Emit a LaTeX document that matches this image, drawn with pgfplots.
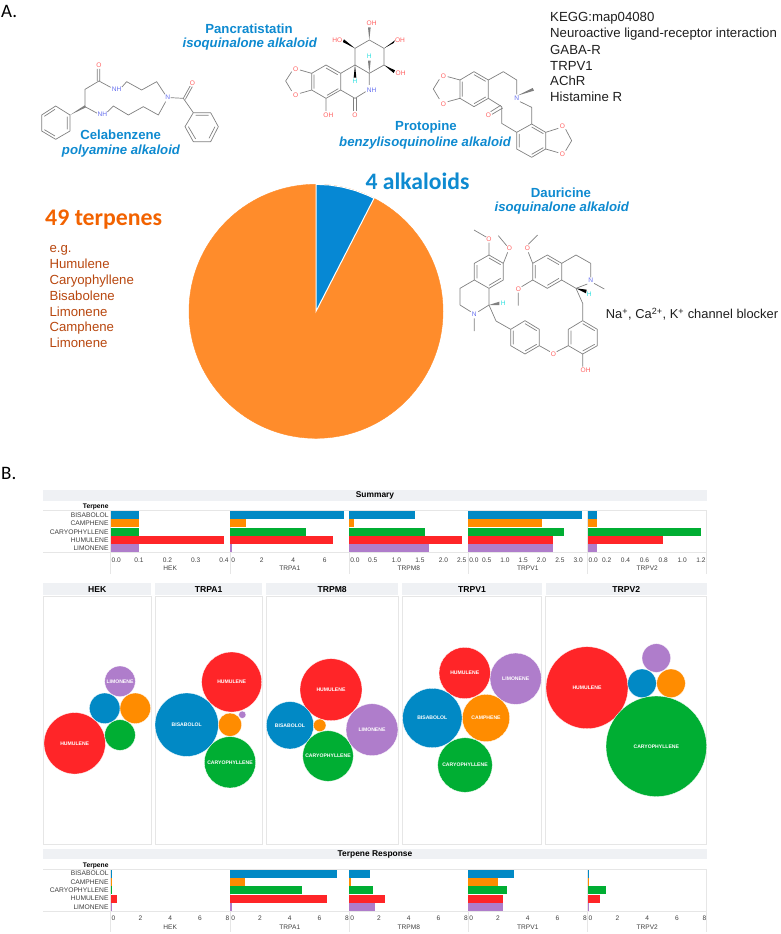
\documentclass[border=0pt]{standalone}
\usepackage{fontspec}
\usepackage{pgfplots}
\pgfplotsset{compat=1.18}
\setmainfont{Liberation Sans}
\newfontfamily\carlito{Carlito}
\newcommand{\fs}[1]{\fontsize{#1}{#1}\selectfont}
\definecolor{bis}{HTML}{0189C5}
\definecolor{cam}{HTML}{FF8C00}
\definecolor{car}{HTML}{00AE33}
\definecolor{hum}{HTML}{FF2528}
\definecolor{lim}{HTML}{AF7DCB}
\definecolor{txtblue}{HTML}{0E8AD0}
\definecolor{pieor}{HTML}{FF8C2B}
\definecolor{pieblue}{HTML}{0688D4}
\definecolor{terp}{HTML}{F26200}
\definecolor{terplist}{HTML}{B8470F}
\definecolor{hdr}{HTML}{EFF1F4}
\definecolor{rule}{HTML}{E6E6E6}
\definecolor{bondc}{HTML}{808080}
\definecolor{atO}{HTML}{FF6060}
\definecolor{atN}{HTML}{6670F0}
\definecolor{atH}{HTML}{30E0E0}
\newcommand{\bub}[5]{\addplot[only marks,mark=*,mark size=#4,color=#1,mark options={draw=white,line width=0.3pt},nodes near coords={#5},every node near coord/.append style={anchor=center,text=white,inner sep=0pt,font=\fs{5.1}\bfseries}] coordinates {(#2,#3)};}
\newcommand{\bars}[5]{%
\addplot[fill=bis,draw=none] coordinates {(#1,0)};
\addplot[fill=cam,draw=none] coordinates {(#2,1)};
\addplot[fill=car,draw=none] coordinates {(#3,2)};
\addplot[fill=hum,draw=none] coordinates {(#4,3)};
\addplot[fill=lim,draw=none] coordinates {(#5,4)};}
\newcommand{\panel}[3]{% x0 x1 title
\fill[hdr] (#1,583.3) rectangle (#2,595);
\draw[rule,line width=0.7pt] (#1,596) rectangle (#2,844.3);
\node[font=\fs{8.6}\bfseries,inner sep=0pt] at ({(#1+#2)/2},589.3) {#3};}
\newcommand{\lft}[1]{\makebox[0pt][l]{\hspace{1pt}#1}}
\newcommand{\rgt}[1]{\makebox[0pt][r]{#1\hspace{0.5pt}}}
\pgfplotsset{
 barax/.style={scale only axis,width=119pt,height=42pt,anchor=north west,xbar,
  /pgf/bar shift=0pt,bar width=7.8pt,y dir=reverse,ymin=-0.52,ymax=4.52,xmin=0,clip=false,
  axis line style={draw=none},major tick length=0pt,tick style={draw=none},
  tick label style={font=\fs{6.6},text=black!75},label style={font=\fs{6.6},text=black!75},
  x tick label style={anchor=base,yshift=-9.4pt,inner sep=0pt},
  xlabel style={at={(axis description cs:0.5,0)},anchor=base,yshift=-18pt,inner sep=0pt},
  ymajorticks=false,xticklabel pos=lower},
 namesy/.style={ymajorticks=true,ytick={0,1,2,3,4},
  yticklabels={BISABOLOL,CAMPHENE,CARYOPHYLLENE,HUMULENE,LIMONENE},
  y tick label style={font=\fs{6.7},anchor=east,inner sep=0pt,xshift=-2pt}}
}
\tikzset{
 bd/.style={draw=bondc,line width=0.7pt,line join=round},
 atm/.style={font=\fs{6.6},inner sep=0.3pt,fill=white},
 aO/.style={atm,text=atO},aN/.style={atm,text=atN},aH/.style={font=\fs{6.6},inner sep=0pt,text=atH},
 mol/.style={x=0.33333pt,y=-0.33333pt},
 ltxt/.style={anchor=west,inner sep=0pt,text height=8.8pt,text depth=0pt}
}
\begin{document}
\begin{tikzpicture}
\useasboundingbox (0,0) rectangle (780pt,-934pt);
\begin{axis}[at={(0pt,0pt)},anchor=north west,scale only axis,width=780pt,height=934pt,
 xmin=0,xmax=780,ymin=0,ymax=934,y dir=reverse,hide axis,clip=false]
% pie body: 49 terpenes
\addplot[only marks,mark=*,mark size=127,color=pieor,mark options={draw=none}] coordinates {(316,311.3)};
% panel headers
\fill[hdr] (43.3,490) rectangle (706.7,501);
\node[font=\fs{8.4}\bfseries,inner sep=0pt] at (375,495.5) {Summary};
\fill[hdr] (43.3,848.7) rectangle (706.7,859.3);
\node[font=\fs{8.4}\bfseries,inner sep=0pt] at (375,854) {Terpene Response};
\node[font=\fs{6.7}\bfseries,anchor=east,inner sep=0pt] at (108.7,506.7) {Terpene};
\node[font=\fs{6.7}\bfseries,anchor=east,inner sep=0pt] at (108.7,865.7) {Terpene};
\draw[rule,line width=0.7pt] (43.3,510.7) -- (706.7,510.7) (43.3,552.7) -- (706.7,552.7);
\draw[rule,line width=0.7pt] (43.3,869.3) -- (706.7,869.3) (43.3,911.3) -- (706.7,911.3);
\draw[rule,line width=0.7pt] (110.7,510.7) -- (110.7,574) (230.3,510.7) -- (230.3,574) (349.3,510.7) -- (349.3,574) (468.3,510.7) -- (468.3,574) (587.7,510.7) -- (587.7,574) (706.7,510.7) -- (706.7,574);
\draw[rule,line width=0.7pt] (110.7,869.3) -- (110.7,932) (230.3,869.3) -- (230.3,932) (349.3,869.3) -- (349.3,932) (468.3,869.3) -- (468.3,932) (587.7,869.3) -- (587.7,932) (706.7,869.3) -- (706.7,932);
% bubble panels
\panel{43.3}{151}{HEK}
\panel{155}{262.3}{TRPA1}
\panel{266}{398.3}{TRPM8}
\panel{402.3}{541.7}{TRPV1}
\panel{545.7}{706.7}{TRPV2}
\bub{hum}{74.7}{743.3}{30.7}{HUMULENE}
\bub{lim}{120}{681.3}{15.3}{LIMONENE}
\bub{bis}{104.7}{708.3}{15.3}{}
\bub{cam}{135.3}{708.3}{15.3}{}
\bub{car}{120}{735}{15.3}{}
\bub{hum}{231.7}{682}{30}{HUMULENE}
\bub{bis}{186.7}{724.7}{31.7}{BISABOLOL}
\bub{cam}{230}{724.7}{11.7}{}
\bub{lim}{242.3}{714.7}{3.7}{}
\bub{car}{230}{762.3}{25.7}{CARYOPHYLLENE}
\bub{hum}{331}{689.7}{31}{HUMULENE}
\bub{bis}{290}{725.3}{23.7}{BISABOLOL}
\bub{cam}{319.7}{725.3}{6.3}{}
\bub{car}{328}{756}{25.3}{CARYOPHYLLENE}
\bub{lim}{372}{729.7}{26}{LIMONENE}
\bub{hum}{464.7}{673}{25.7}{HUMULENE}
\bub{lim}{515.7}{678.7}{25.7}{LIMONENE}
\bub{bis}{432.3}{718}{29.7}{BISABOLOL}
\bub{cam}{486}{718}{23.7}{CAMPHENE}
\bub{car}{465}{765}{27.3}{CARYOPHYLLENE}
\bub{hum}{587}{687.7}{41}{HUMULENE}
\bub{lim}{656.3}{658}{14.3}{}
\bub{bis}{642}{683.3}{14.3}{}
\bub{cam}{671}{683.3}{14.3}{}
\bub{car}{656.3}{746.3}{50.3}{CARYOPHYLLENE}
% text
\node[font=\carlito\fs{19},anchor=west,inner sep=0pt] at (1,11) {A.};
\node[font=\carlito\fs{19},anchor=west,inner sep=0pt] at (1,473) {B.};
\node[font=\fs{13.2}\bfseries,text=txtblue,inner sep=0pt] at (249,28.3) {Pancratistatin};
\node[font=\fs{13.2}\bfseries\itshape,text=txtblue,inner sep=0pt] at (249.7,44.3) {isoquinalone alkaloid};
\node[font=\fs{13.2}\bfseries,text=txtblue,inner sep=0pt] at (120.7,135) {Celabenzene};
\node[font=\fs{13.2}\bfseries\itshape,text=txtblue,inner sep=0pt] at (121,150.7) {polyamine alkaloid};
\node[font=\fs{13.2}\bfseries,text=txtblue,inner sep=0pt] at (426,127) {Protopine};
\node[font=\fs{13.2}\bfseries\itshape,text=txtblue,inner sep=0pt] at (425,142.7) {benzylisoquinoline alkaloid};
\node[font=\fs{13.2}\bfseries,text=txtblue,inner sep=0pt] at (561,192.7) {Dauricine};
\node[font=\fs{13.2}\bfseries\itshape,text=txtblue,inner sep=0pt] at (561.7,208.3) {isoquinalone alkaloid};
\node[font=\carlito\fs{23.6}\bfseries,text=txtblue,inner sep=0pt] at (417.5,181) {4 alkaloids};
\node[font=\carlito\fs{23.8}\bfseries,text=terp,inner sep=0pt] at (103.7,220) {49 terpenes};
\foreach \yy/\tt in {17.3/KEGG:map04080,33.3/Neuroactive ligand-receptor interaction,49.6/GABA-R,65.6/TRPV1,81.3/AChR,97.3/Histamine R}{
 \edef\tmp{\noexpand\node[font=\noexpand\fs{13.2},ltxt,text=black!88] at (550,\yy) {\tt};}\tmp}
\foreach \yy/\tt in {248.3/e.g.,264/Humulene,280/Caryophyllene,295.7/Bisabolene,311.7/Limonene,327.3/Camphene,343.3/Limonene}{
 \edef\tmp{\noexpand\node[font=\noexpand\fs{13.2},ltxt,text=terplist] at (49.3,\yy) {\tt};}\tmp}
\node[font=\fs{12.9},ltxt,text=black!88] at (605.7,314) {Na\textsuperscript{+}, Ca\textsuperscript{2+}, K\textsuperscript{+} channel blocker};
\end{axis}
% pie slice: 4 alkaloids (own axis so that it lies over the pie body)
\begin{axis}[at={(0pt,0pt)},anchor=north west,scale only axis,width=780pt,height=934pt,
 xmin=0,xmax=780,ymin=0,ymax=934,y dir=reverse,hide axis,clip=false]
\addplot[fill=pieblue,draw=white,line width=1pt] coordinates {(316,311.3)(316,184.3)(329.3,185.0)(342.4,187.1)(355.2,190.5)(367.7,195.3)(374.0,198.3)} -- cycle;
\end{axis}
% Summary bars
\begin{axis}[barax,namesy,at={(110.7pt,-510.7pt)},xmax=0.42,xtick={0,0.1,0.2,0.3,0.4},xticklabels={\lft{0.0},0.1,0.2,0.3,0.4},xlabel={HEK}]
\bars{0.1}{0.1}{0.1}{0.4}{0.1}\end{axis}
\begin{axis}[barax,at={(230.3pt,-510.7pt)},xmax=7.56,xtick={0,2,4,6},xticklabels={\lft{0},2,4,6},xlabel={TRPA1}]
\bars{7.2}{1.0}{4.8}{6.5}{0.1}\end{axis}
\begin{axis}[barax,at={(349.3pt,-510.7pt)},xmax=2.53,xtick={0,0.5,1,1.5,2,2.5},xticklabels={\lft{0.0},0.5,1.0,1.5,2.0,\rgt{2.5}},xlabel={TRPM8}]
\bars{1.4}{0.1}{1.6}{2.4}{1.7}\end{axis}
\begin{axis}[barax,at={(468.3pt,-510.7pt)},xmax=3.25,xtick={0,0.5,1,1.5,2,2.5,3},xticklabels={\lft{0.0},0.5,1.0,1.5,2.0,2.5,3.0},xlabel={TRPV1}]
\bars{3.1}{2.0}{2.6}{2.3}{2.3}\end{axis}
\begin{axis}[barax,at={(587.7pt,-510.7pt)},xmax=1.26,xtick={0,0.2,0.4,0.6,0.8,1,1.2},xticklabels={\lft{0.0},0.2,0.4,0.6,0.8,1.0,1.2},xlabel={TRPV2}]
\bars{0.1}{0.1}{1.2}{0.8}{0.1}\end{axis}
% Terpene Response bars
\begin{axis}[barax,namesy,at={(110.7pt,-869.3pt)},xmax=8,xtick={0,2,4,6,8},xticklabels={\lft{0},2,4,6,\rgt{8}},xlabel={HEK}]
\bars{0.1}{0.1}{0.1}{0.4}{0.1}\end{axis}
\begin{axis}[barax,at={(230.3pt,-869.3pt)},xmax=8,xtick={0,2,4,6,8},xticklabels={\lft{0},2,4,6,\rgt{8}},xlabel={TRPA1}]
\bars{7.2}{1.0}{4.8}{6.5}{0.1}\end{axis}
\begin{axis}[barax,at={(349.3pt,-869.3pt)},xmax=8,xtick={0,2,4,6,8},xticklabels={\lft{0},2,4,6,\rgt{8}},xlabel={TRPM8}]
\bars{1.4}{0.1}{1.6}{2.4}{1.7}\end{axis}
\begin{axis}[barax,at={(468.3pt,-869.3pt)},xmax=8,xtick={0,2,4,6,8},xticklabels={\lft{0},2,4,6,\rgt{8}},xlabel={TRPV1}]
\bars{3.1}{2.0}{2.6}{2.3}{2.3}\end{axis}
\begin{axis}[barax,at={(587.7pt,-869.3pt)},xmax=8,xtick={0,2,4,6,8},xticklabels={\lft{0},2,4,6,\rgt{8}},xlabel={TRPV2}]
\bars{0.1}{0.1}{1.2}{0.8}{0.1}\end{axis}
% Structure sketches (not data)
\begin{scope}[mol]
% Celabenzene
\draw[bd] (167,318)--(210,345)--(210,393)--(167,418)--(125,393)--(125,345)--cycle;
\draw[bd] (202,350)--(202,388) (165,408)--(133,389) (133,349)--(165,328);
\fill[bondc] (210,345)--(254,316)--(258,322)--cycle;
\draw[bd] (255,320)--(255,268)--(297,243)--(332,262) (292,243)--(292,207) (299,243)--(299,207);
\draw[bd] (365,262)--(380,245)--(425,270)--(470,245)--(495,283);
\draw[bd] (255,320)--(292,340) (322,336)--(340,318)--(385,345)--(430,320)--(475,345)--(497,305);
\draw[bd] (512,293)--(550,295)--(580,338)--(632,338)--(655,380)--(632,425)--(580,425)--(555,380)--(580,338);
\draw[bd] (550,295)--(571,257) (556,298)--(577,260);
\draw[bd] (587,346)--(626,346) (645,380)--(627,415) (587,417)--(565,380);
\node[aO] at (297,195) {O}; \node[aN] at (350,268) {NH}; \node[aN] at (307,344) {NH};
\node[aN] at (503,293) {N}; \node[aO] at (577,250) {O};
\end{scope}
\begin{scope}[mol,shift={(275pt,-10pt)}]
% Pancratistatin
\draw[bd] (240,115)--(283,90)--(327,115)--(327,165)--(283,190)--(240,165)--cycle;
\fill[bondc] (283,90)--(279,52)--(287,52)--cycle;
\fill[black] (240,115)--(207,88)--(203,96)--cycle;
\fill[black] (327,115)--(360,91)--(356,99)--cycle;
\fill[black] (327,165)--(360,181)--(356,189)--cycle;
\fill[bondc] (283,190)--(279,152)--(287,152)--cycle;
\fill[black] (240,165)--(236,203)--(244,203)--cycle;
\draw[bd] (283,190)--(283,225) (272,245)--(240,265)--(197,240)--(197,190)--(240,165);
\draw[bd] (236,265)--(236,302) (244,265)--(244,302);
\draw[bd] (197,190)--(153,165)--(110,190)--(110,240)--(153,265)--(197,240);
\draw[bd] (153,174)--(188,194) (117,194)--(117,236) (156,256)--(190,236);
\draw[bd] (153,265)--(153,303) (110,190)--(75,180) (50,185)--(32,213)--(50,243) (75,250)--(110,240);
\node[aO] at (290,40) {OH}; \node[aO] at (187,90) {HO}; \node[aO] at (375,90) {OH}; \node[aO] at (377,190) {OH};
\node[aH] at (283,140) {H}; \node[aH] at (240,215) {H};
\node[aN] at (290,240) {NH}; \node[aO] at (240,315) {O}; \node[aO] at (160,315) {OH};
\node[aO] at (62,177) {O}; \node[aO] at (62,255) {O};
\end{scope}
\begin{scope}[mol,shift={(400pt,0pt)}]
% Protopine
\draw[bd] (180,240)--(222,215)--(265,240)--(265,295)--(222,320)--(180,295)--cycle;
\draw[bd] (222,224)--(257,244) (257,291)--(222,311) (187,290)--(187,245);
\draw[bd] (180,240)--(143,230) (118,238)--(100,267)--(118,297) (143,305)--(180,295);
\draw[bd] (265,240)--(310,215)--(350,240)--(350,283) (360,305)--(395,322)--(395,372);
\fill[bondc] (352,287)--(398,264)--(402,272)--cycle;
\draw[bd] (265,295)--(305,320)--(305,370)--(350,397);
\draw[bd] (302,316)--(272,335) (308,324)--(276,343);
\draw[bd] (350,397)--(395,372)--(437,397)--(437,447)--(395,472)--(350,447)--cycle;
\draw[bd] (395,381)--(430,401) (358,402)--(358,442) (395,463)--(430,443);
\draw[bd] (437,397)--(475,385) (497,388)--(515,422)--(497,452) (475,458)--(437,447);
\node[aO] at (130,230) {O}; \node[aO] at (130,312) {O}; \node[aN] at (350,295) {N};
\node[aO] at (265,345) {O}; \node[aO] at (487,380) {O}; \node[aO] at (487,462) {O};
\end{scope}
\begin{scope}[mol,shift={(440pt,-190pt)}]
% Dauricine
\draw[bd] (102,120)--(140,142) (147,158)--(147,195);
\draw[bd] (147,195)--(190,220)--(190,270)--(147,295)--(103,270)--(103,220)--cycle;
\draw[bd] (147,204)--(182,224) (182,265)--(147,286) (111,265)--(111,225);
\draw[bd] (175,137)--(200,167) (203,187)--(190,220);
\draw[bd] (103,270)--(60,295)--(60,345)--(92,365) (115,365)--(147,345)--(147,295) (103,385)--(103,423);
\fill[bondc] (147,345)--(178,335)--(178,345)--cycle;
\draw[bd] (147,345)--(168,393)--(212,418);
\draw[bd] (255,392)--(298,418)--(298,467)--(255,492)--(212,467)--(212,418)--cycle;
\draw[bd] (255,401)--(290,422) (290,463)--(255,483) (220,463)--(220,422);
\draw[bd] (298,467)--(330,485) (350,485)--(385,467);
\draw[bd] (385,467)--(385,418)--(428,392)--(472,418)--(472,467)--(428,492)--cycle;
\draw[bd] (393,463)--(393,422) (428,401)--(464,422) (464,463)--(428,483);
\draw[bd] (428,492)--(428,530) (428,392)--(428,340)--(408,295);
\fill[black] (408,295)--(440,299)--(438,310)--cycle;
\draw[bd] (365,220)--(322,195)--(278,220)--(278,270)--(322,295)--(365,270)--cycle;
\draw[bd] (322,204)--(357,224) (357,265)--(322,286) (286,265)--(286,225);
\draw[bd] (365,220)--(408,195)--(452,220)--(452,262) (442,282)--(408,295)--(365,270) (462,280)--(493,297);
\draw[bd] (278,220)--(265,187) (265,163)--(293,135) (278,270)--(245,290) (235,308)--(235,347);
\node[aO] at (147,148) {O}; \node[aO] at (208,176) {O}; \node[aN] at (103,372) {N};
\node[aH] at (190,340) {H}; \node[aO] at (340,492) {O}; \node[aO] at (437,542) {OH};
\node[aH] at (448,312) {H}; \node[aN] at (452,272) {N}; \node[aO] at (262,175) {O}; \node[aO] at (235,297) {O};
\end{scope}
\end{tikzpicture}
\end{document}
